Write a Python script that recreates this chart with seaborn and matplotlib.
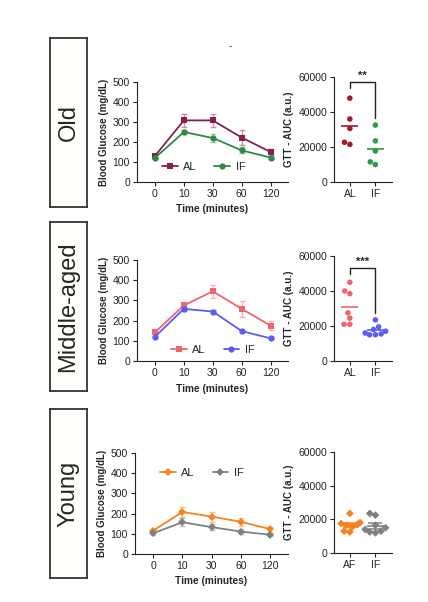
import numpy as np
import pandas as pd
import matplotlib
matplotlib.use("Agg")
import matplotlib.pyplot as plt
import seaborn as sns

# time points of the glucose tolerance test
times = ["0", "10", "30", "60", "120"]

# blood glucose means / SEM (mg/dL)
old_al = [130, 308, 308, 222, 150]
old_al_sem = [8, 33, 33, 36, 15]
old_if = [120, 250, 220, 158, 122]
old_if_sem = [6, 12, 20, 15, 8]

mid_al = [142, 275, 345, 258, 175]
mid_al_sem = [8, 15, 33, 38, 22]
mid_if = [120, 258, 245, 148, 112]
mid_if_sem = [5, 8, 8, 6, 5]

young_al = [116, 208, 185, 159, 123]
young_al_sem = [8, 23, 25, 18, 12]
young_if = [103, 157, 133, 111, 95]
young_if_sem = [8, 20, 15, 12, 8]

# GTT AUC per animal (a.u.)
old_auc_al = [47900, 36000, 30600, 21500, 22700]
old_auc_if = [32500, 23500, 17700, 10000, 11500]
mid_auc_al = [45000, 40000, 38500, 27500, 24500, 21000, 21000]
mid_auc_if = [23500, 19500, 18000, 17000, 16000, 15500, 15000, 15000]
young_auc_al = [23500, 18000, 17500, 17000, 16500, 15500, 13000, 12500]
young_auc_if = [23500, 22500, 16500, 15000, 14000, 13000, 12500, 12000]

sns.set_theme(style="ticks")
plt.rcParams["font.family"] = ["Liberation Sans", "DejaVu Sans"]
plt.rcParams["axes.edgecolor"] = "#222222"
plt.rcParams["axes.linewidth"] = 0.8

fig = plt.figure(figsize=(4.28, 6.02), dpi=100)
W, H = 428.0, 602.0


def px_axes(x0, y0, x1, y1):
    # axes from pixel box (top-left origin)
    return fig.add_axes([x0 / W, 1 - y1 / H, (x1 - x0) / W, (y1 - y0) / H])


def label_box(y0, y1, text):
    ax = px_axes(50, y0, 87, y1)
    ax.set_xticks([])
    ax.set_yticks([])
    for s in ax.spines.values():
        s.set_linewidth(1.3)
        s.set_color("#333333")
    ax.set_facecolor("#fffffb")
    ax.text(0.5, 0.5, text, rotation=90, ha="center", va="center",
            fontsize=17, transform=ax.transAxes)


def gtt_panel(box, al, al_sem, iff, iff_sem, colors, markers, leg_xy):
    ax = px_axes(*box)
    pos = np.arange(len(times))
    for vals, sem, c, m, lab in [(al, al_sem, colors[0], markers[0], "AL"),
                                 (iff, iff_sem, colors[1], markers[1], "IF")]:
        ax.errorbar(pos, vals, yerr=sem, fmt="none", ecolor=c, alpha=0.45,
                    elinewidth=1, capsize=2.2, capthick=1)
        sns.lineplot(x=pos, y=vals, ax=ax, color=c, marker=m, markersize=4.5,
                     markeredgewidth=0, linewidth=1.3, label=lab)
    ax.set_xticks(pos)
    ax.set_xticklabels(times)
    ax.set_xlim(-0.62, 4.6)
    ax.set_ylim(0, 500)
    ax.set_yticks([0, 100, 200, 300, 400, 500])
    ax.tick_params(labelsize=7.5, length=3, width=0.8, pad=2, colors="#222222")
    ax.set_xlabel("Time (minutes)", fontsize=7.3, fontweight="bold", labelpad=4)
    ax.set_ylabel("Blood Glucose (mg/dL)", fontsize=7, fontweight="bold", labelpad=3)
    sns.despine(ax=ax)
    ax.legend(loc="center left", bbox_to_anchor=leg_xy, ncol=2, frameon=False,
              fontsize=8, handlelength=1.4, columnspacing=1.6, handletextpad=0.5)
    return ax


def auc_panel(box, al, iff, names, colors, marker, sem_bars=False, sig=None):
    ax = px_axes(*box)
    df = pd.DataFrame({"group": [names[0]] * len(al) + [names[1]] * len(iff),
                       "auc": al + iff})
    sns.swarmplot(data=df, x="group", y="auc", hue="group", order=names,
                  palette=colors, legend=False, size=4, marker=marker,
                  linewidth=0, ax=ax)
    for i, (vals, c) in enumerate(zip([al, iff], colors)):
        m = np.mean(vals)
        ax.hlines(m, i - 0.33, i + 0.33, color=c, linewidth=1.2, zorder=5)
        if sem_bars:
            se = np.std(vals, ddof=1) / np.sqrt(len(vals))
            ax.errorbar(i, m, yerr=se, fmt="none", ecolor=c, elinewidth=1.1,
                        capsize=5, capthick=1.1, zorder=5)
    if sig is not None:
        txt, y_top, y_left, y_right = sig
        ax.plot([0, 0, 1, 1], [y_left, y_top, y_top, y_right], color="#222222", lw=1)
        ax.text(0.5, y_top + 600, txt, ha="center", va="bottom", fontsize=8,
                fontweight="bold")
    ax.set_xlim(-0.62, 1.65)
    ax.set_ylim(0, 60000)
    ax.set_yticks([0, 20000, 40000, 60000])
    ax.set_xlabel("")
    ax.set_ylabel("GTT - AUC (a.u.)", fontsize=7, fontweight="bold", labelpad=3)
    ax.tick_params(labelsize=7.5, length=3, width=0.8, pad=2, colors="#222222")
    sns.despine(ax=ax)
    return ax


# Old
label_box(38, 207, "Old")
gtt_panel((137, 82, 288, 182), old_al, old_al_sem, old_if, old_if_sem,
          ["#8c1d4c", "#2e8b45"], ["s", "o"], (0.1, 0.15))
auc_panel((334, 77, 392, 182), old_auc_al, old_auc_if, ["AL", "IF"],
          ["#a3192b", "#2e9a4b"], "o", sig=("**", 57000, 53500, 36300))

# Middle-aged
label_box(222, 391, "Middle-aged")
gtt_panel((137, 260, 288, 361), mid_al, mid_al_sem, mid_if, mid_if_sem,
          ["#f0646e", "#5a5cf2"], ["s", "o"], (0.16, 0.11))
auc_panel((334, 256, 392, 361), mid_auc_al, mid_auc_if, ["AL", "IF"],
          ["#f0646e", "#5a5cf2"], "o", sig=("***", 53300, 49800, 27700))

# Young
label_box(409, 578, "Young")
gtt_panel((135, 453, 288, 554), young_al, young_al_sem, young_if, young_if_sem,
          ["#f5821f", "#808080"], ["D", "D"], (0.1, 0.8))
auc_panel((334, 452, 392, 553), young_auc_al, young_auc_if, ["AF", "IF"],
          ["#f5821f", "#808080"], "D", sem_bars=True)

fig.text(230 / W, 1 - 46 / H, "-", fontsize=7, ha="center", va="center")

fig.savefig("out.png", dpi=100, facecolor="white")
